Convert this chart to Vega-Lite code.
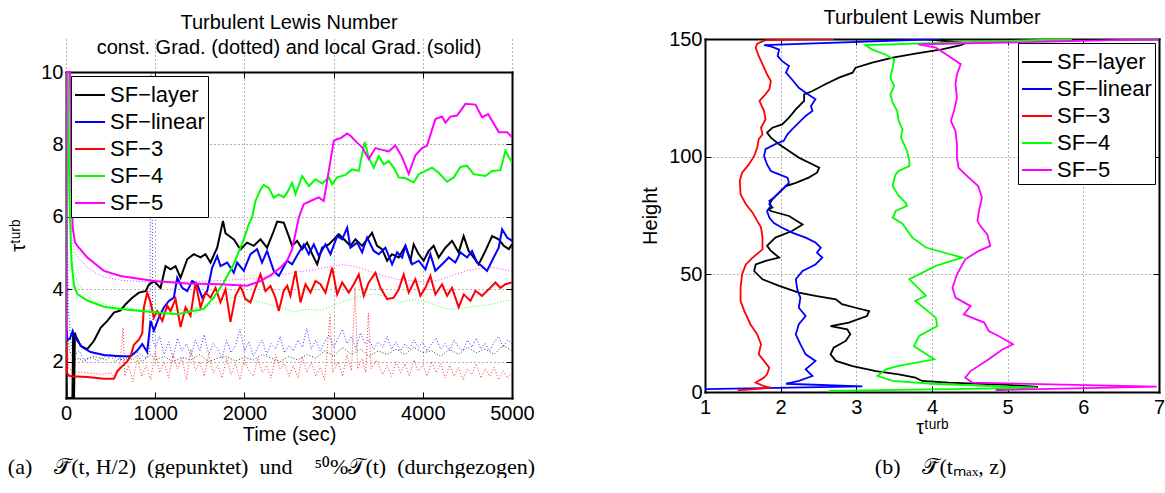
{
"$schema":"https://vega.github.io/schema/vega-lite/v6.json",
"background":"white",
"padding":{"left":7,"top":8,"right":0,"bottom":0},
"config":{
 "font":"Liberation Sans",
 "view":{"stroke":null},
 "axis":{"labelFont":"Liberation Sans","labelFontSize":20,"labelColor":"black","titleFont":"Liberation Sans","titleFontSize":20,"titleFontWeight":"normal","titleColor":"black","domain":true,"domainColor":"black","domainWidth":2,"domainCap":"square","tickColor":"black","tickSize":-6,"tickWidth":1,"gridColor":"black","gridDash":[1,3],"gridOpacity":0.6,"gridWidth":1,"labelFlush":false},
 "legend":{"padding":3,"strokeColor":"black","fillColor":"white","labelFont":"Liberation Sans","labelFontSize":22,"labelColor":"black","symbolType":"stroke","symbolSize":900,"symbolStrokeWidth":2,"symbolDash":[],"symbolOpacity":1,"labelOffset":4,"rowPadding":-1},
 "title":{"font":"Liberation Sans","fontSize":20,"fontWeight":"normal","color":"black"}
},
"datasets":{
"ls":[
{"s":"SF−layer","t":0,"v":2.6},{"s":"SF−layer","t":8,"v":1.0},{"s":"SF−layer","t":72,"v":1.0},{"s":"SF−layer","t":80,"v":2.8},{"s":"SF−layer","t":90,"v":1.0},{"s":"SF−layer","t":100,"v":2.8},{"s":"SF−layer","t":108,"v":2.72},{"s":"SF−layer","t":164,"v":2.44},{"s":"SF−layer","t":239,"v":2.35},{"s":"SF−layer","t":314,"v":2.58},{"s":"SF−layer","t":388,"v":2.94},{"s":"SF−layer","t":463,"v":3.13},{"s":"SF−layer","t":537,"v":3.36},{"s":"SF−layer","t":612,"v":3.42},{"s":"SF−layer","t":668,"v":3.59},{"s":"SF−layer","t":743,"v":3.77},{"s":"SF−layer","t":817,"v":3.91},{"s":"SF−layer","t":892,"v":3.95},{"s":"SF−layer","t":929,"v":4.13},{"s":"SF−layer","t":985,"v":4.23},{"s":"SF−layer","t":1060,"v":4.04},{"s":"SF−layer","t":1116,"v":4.64},{"s":"SF−layer","t":1172,"v":4.55},{"s":"SF−layer","t":1228,"v":4.64},{"s":"SF−layer","t":1284,"v":4.32},{"s":"SF−layer","t":1359,"v":4.83},{"s":"SF−layer","t":1433,"v":4.97},{"s":"SF−layer","t":1508,"v":4.88},{"s":"SF−layer","t":1564,"v":4.97},{"s":"SF−layer","t":1620,"v":4.74},{"s":"SF−layer","t":1695,"v":5.15},{"s":"SF−layer","t":1760,"v":5.89},{"s":"SF−layer","t":1788,"v":5.55},{"s":"SF−layer","t":1881,"v":5.38},{"s":"SF−layer","t":1956,"v":5.1},{"s":"SF−layer","t":2030,"v":5.29},{"s":"SF−layer","t":2105,"v":5.2},{"s":"SF−layer","t":2180,"v":5.38},{"s":"SF−layer","t":2254,"v":5.15},{"s":"SF−layer","t":2329,"v":5.61},{"s":"SF−layer","t":2367,"v":5.87},{"s":"SF−layer","t":2441,"v":5.84},{"s":"SF−layer","t":2497,"v":5.47},{"s":"SF−layer","t":2535,"v":5.2},{"s":"SF−layer","t":2591,"v":5.34},{"s":"SF−layer","t":2647,"v":5.11},{"s":"SF−layer","t":2703,"v":5.29},{"s":"SF−layer","t":2760,"v":4.97},{"s":"SF−layer","t":2816,"v":4.69},{"s":"SF−layer","t":2871,"v":5.15},{"s":"SF−layer","t":2946,"v":5.24},{"s":"SF−layer","t":3002,"v":5.38},{"s":"SF−layer","t":3058,"v":5.52},{"s":"SF−layer","t":3133,"v":5.34},{"s":"SF−layer","t":3189,"v":5.2},{"s":"SF−layer","t":3245,"v":5.38},{"s":"SF−layer","t":3320,"v":5.2},{"s":"SF−layer","t":3376,"v":5.38},{"s":"SF−layer","t":3431,"v":5.56},{"s":"SF−layer","t":3487,"v":5.2},{"s":"SF−layer","t":3543,"v":5.11},{"s":"SF−layer","t":3600,"v":4.79},{"s":"SF−layer","t":3655,"v":4.97},{"s":"SF−layer","t":3730,"v":4.88},{"s":"SF−layer","t":3805,"v":5.2},{"s":"SF−layer","t":3861,"v":4.79},{"s":"SF−layer","t":3898,"v":5.24},{"s":"SF−layer","t":3954,"v":4.97},{"s":"SF−layer","t":4010,"v":4.79},{"s":"SF−layer","t":4066,"v":5.06},{"s":"SF−layer","t":4122,"v":5.2},{"s":"SF−layer","t":4178,"v":4.88},{"s":"SF−layer","t":4253,"v":5.15},{"s":"SF−layer","t":4328,"v":5.34},{"s":"SF−layer","t":4402,"v":5.02},{"s":"SF−layer","t":4458,"v":5.47},{"s":"SF−layer","t":4514,"v":5.06},{"s":"SF−layer","t":4570,"v":4.88},{"s":"SF−layer","t":4626,"v":4.69},{"s":"SF−layer","t":4702,"v":5.06},{"s":"SF−layer","t":4777,"v":5.47},{"s":"SF−layer","t":4851,"v":5.38},{"s":"SF−layer","t":4908,"v":5.2},{"s":"SF−layer","t":4964,"v":5.11},{"s":"SF−layer","t":5000,"v":5.24},
{"s":"SF−linear","t":0,"v":3.0},{"s":"SF−linear","t":15,"v":2.6},{"s":"SF−linear","t":45,"v":2.65},{"s":"SF−linear","t":75,"v":2.85},{"s":"SF−linear","t":90,"v":2.72},{"s":"SF−linear","t":127,"v":2.58},{"s":"SF−linear","t":183,"v":2.4},{"s":"SF−linear","t":276,"v":2.27},{"s":"SF−linear","t":425,"v":2.19},{"s":"SF−linear","t":612,"v":2.15},{"s":"SF−linear","t":724,"v":2.15},{"s":"SF−linear","t":799,"v":2.31},{"s":"SF−linear","t":855,"v":2.49},{"s":"SF−linear","t":910,"v":2.27},{"s":"SF−linear","t":948,"v":3.13},{"s":"SF−linear","t":985,"v":2.86},{"s":"SF−linear","t":1041,"v":3.22},{"s":"SF−linear","t":1097,"v":3.5},{"s":"SF−linear","t":1153,"v":3.68},{"s":"SF−linear","t":1209,"v":3.77},{"s":"SF−linear","t":1247,"v":4.32},{"s":"SF−linear","t":1303,"v":4.04},{"s":"SF−linear","t":1359,"v":3.95},{"s":"SF−linear","t":1415,"v":4.23},{"s":"SF−linear","t":1471,"v":4.14},{"s":"SF−linear","t":1527,"v":3.77},{"s":"SF−linear","t":1583,"v":3.95},{"s":"SF−linear","t":1639,"v":4.6},{"s":"SF−linear","t":1695,"v":4.92},{"s":"SF−linear","t":1732,"v":4.64},{"s":"SF−linear","t":1807,"v":4.74},{"s":"SF−linear","t":1881,"v":4.46},{"s":"SF−linear","t":1919,"v":4.74},{"s":"SF−linear","t":1993,"v":4.51},{"s":"SF−linear","t":2068,"v":4.97},{"s":"SF−linear","t":2142,"v":5.11},{"s":"SF−linear","t":2198,"v":4.74},{"s":"SF−linear","t":2254,"v":5.06},{"s":"SF−linear","t":2329,"v":4.51},{"s":"SF−linear","t":2386,"v":4.37},{"s":"SF−linear","t":2479,"v":4.79},{"s":"SF−linear","t":2535,"v":4.69},{"s":"SF−linear","t":2610,"v":5.02},{"s":"SF−linear","t":2666,"v":5.24},{"s":"SF−linear","t":2722,"v":4.97},{"s":"SF−linear","t":2778,"v":5.24},{"s":"SF−linear","t":2834,"v":4.92},{"s":"SF−linear","t":2909,"v":5.24},{"s":"SF−linear","t":2965,"v":4.97},{"s":"SF−linear","t":3040,"v":5.47},{"s":"SF−linear","t":3096,"v":5.38},{"s":"SF−linear","t":3152,"v":5.7},{"s":"SF−linear","t":3189,"v":5.15},{"s":"SF−linear","t":3264,"v":5.29},{"s":"SF−linear","t":3320,"v":5.02},{"s":"SF−linear","t":3376,"v":5.43},{"s":"SF−linear","t":3450,"v":5.06},{"s":"SF−linear","t":3506,"v":4.97},{"s":"SF−linear","t":3581,"v":5.15},{"s":"SF−linear","t":3656,"v":4.69},{"s":"SF−linear","t":3712,"v":5.02},{"s":"SF−linear","t":3768,"v":4.88},{"s":"SF−linear","t":3805,"v":5.2},{"s":"SF−linear","t":3880,"v":4.69},{"s":"SF−linear","t":3954,"v":4.79},{"s":"SF−linear","t":4029,"v":4.55},{"s":"SF−linear","t":4085,"v":4.97},{"s":"SF−linear","t":4141,"v":4.51},{"s":"SF−linear","t":4216,"v":4.69},{"s":"SF−linear","t":4290,"v":4.88},{"s":"SF−linear","t":4365,"v":4.74},{"s":"SF−linear","t":4421,"v":5.02},{"s":"SF−linear","t":4496,"v":4.88},{"s":"SF−linear","t":4552,"v":5.06},{"s":"SF−linear","t":4608,"v":4.74},{"s":"SF−linear","t":4664,"v":4.64},{"s":"SF−linear","t":4720,"v":4.51},{"s":"SF−linear","t":4776,"v":4.79},{"s":"SF−linear","t":4851,"v":5.15},{"s":"SF−linear","t":4889,"v":5.66},{"s":"SF−linear","t":4945,"v":5.43},{"s":"SF−linear","t":5000,"v":5.34},
{"s":"SF−3","t":0,"v":2.6},{"s":"SF−3","t":12,"v":1.7},{"s":"SF−3","t":30,"v":1.62},{"s":"SF−3","t":60,"v":1.6},{"s":"SF−3","t":239,"v":1.58},{"s":"SF−3","t":425,"v":1.53},{"s":"SF−3","t":537,"v":1.53},{"s":"SF−3","t":575,"v":1.74},{"s":"SF−3","t":631,"v":1.88},{"s":"SF−3","t":687,"v":2.01},{"s":"SF−3","t":724,"v":2.15},{"s":"SF−3","t":761,"v":2.47},{"s":"SF−3","t":817,"v":2.61},{"s":"SF−3","t":855,"v":2.79},{"s":"SF−3","t":873,"v":3.5},{"s":"SF−3","t":910,"v":3.91},{"s":"SF−3","t":948,"v":3.64},{"s":"SF−3","t":985,"v":3.22},{"s":"SF−3","t":1023,"v":3.4},{"s":"SF−3","t":1079,"v":3.13},{"s":"SF−3","t":1135,"v":3.55},{"s":"SF−3","t":1172,"v":3.4},{"s":"SF−3","t":1228,"v":3.73},{"s":"SF−3","t":1284,"v":2.96},{"s":"SF−3","t":1340,"v":3.5},{"s":"SF−3","t":1396,"v":3.27},{"s":"SF−3","t":1452,"v":4.19},{"s":"SF−3","t":1508,"v":3.5},{"s":"SF−3","t":1564,"v":3.91},{"s":"SF−3","t":1620,"v":3.77},{"s":"SF−3","t":1676,"v":4.04},{"s":"SF−3","t":1732,"v":3.64},{"s":"SF−3","t":1788,"v":4.0},{"s":"SF−3","t":1844,"v":3.1},{"s":"SF−3","t":1900,"v":3.82},{"s":"SF−3","t":1956,"v":4.09},{"s":"SF−3","t":2012,"v":3.73},{"s":"SF−3","t":2068,"v":3.64},{"s":"SF−3","t":2124,"v":4.04},{"s":"SF−3","t":2180,"v":4.41},{"s":"SF−3","t":2236,"v":3.95},{"s":"SF−3","t":2292,"v":4.09},{"s":"SF−3","t":2348,"v":3.77},{"s":"SF−3","t":2385,"v":3.4},{"s":"SF−3","t":2441,"v":3.96},{"s":"SF−3","t":2480,"v":4.1},{"s":"SF−3","t":2516,"v":3.82},{"s":"SF−3","t":2573,"v":4.51},{"s":"SF−3","t":2629,"v":3.64},{"s":"SF−3","t":2685,"v":4.14},{"s":"SF−3","t":2741,"v":3.91},{"s":"SF−3","t":2797,"v":4.23},{"s":"SF−3","t":2853,"v":4.14},{"s":"SF−3","t":2909,"v":3.91},{"s":"SF−3","t":2984,"v":4.6},{"s":"SF−3","t":3040,"v":3.86},{"s":"SF−3","t":3096,"v":4.19},{"s":"SF−3","t":3170,"v":3.91},{"s":"SF−3","t":3226,"v":4.14},{"s":"SF−3","t":3282,"v":4.41},{"s":"SF−3","t":3338,"v":3.82},{"s":"SF−3","t":3394,"v":4.19},{"s":"SF−3","t":3469,"v":4.46},{"s":"SF−3","t":3525,"v":4.04},{"s":"SF−3","t":3600,"v":3.73},{"s":"SF−3","t":3674,"v":3.77},{"s":"SF−3","t":3730,"v":4.0},{"s":"SF−3","t":3786,"v":4.41},{"s":"SF−3","t":3842,"v":3.91},{"s":"SF−3","t":3917,"v":4.28},{"s":"SF−3","t":3973,"v":3.82},{"s":"SF−3","t":4029,"v":4.04},{"s":"SF−3","t":4085,"v":4.37},{"s":"SF−3","t":4141,"v":3.86},{"s":"SF−3","t":4216,"v":4.14},{"s":"SF−3","t":4272,"v":3.82},{"s":"SF−3","t":4328,"v":4.04},{"s":"SF−3","t":4402,"v":3.5},{"s":"SF−3","t":4459,"v":3.86},{"s":"SF−3","t":4534,"v":3.68},{"s":"SF−3","t":4590,"v":3.96},{"s":"SF−3","t":4664,"v":3.82},{"s":"SF−3","t":4739,"v":4.0},{"s":"SF−3","t":4814,"v":4.19},{"s":"SF−3","t":4870,"v":4.04},{"s":"SF−3","t":4926,"v":4.14},{"s":"SF−3","t":5000,"v":4.19},
{"s":"SF−4","t":0,"v":3.0},{"s":"SF−4","t":20,"v":10.0},{"s":"SF−4","t":40,"v":6.5},{"s":"SF−4","t":60,"v":4.8},{"s":"SF−4","t":90,"v":4.1},{"s":"SF−4","t":127,"v":3.87},{"s":"SF−4","t":239,"v":3.69},{"s":"SF−4","t":425,"v":3.52},{"s":"SF−4","t":612,"v":3.46},{"s":"SF−4","t":985,"v":3.37},{"s":"SF−4","t":1247,"v":3.31},{"s":"SF−4","t":1396,"v":3.39},{"s":"SF−4","t":1545,"v":3.46},{"s":"SF−4","t":1657,"v":3.78},{"s":"SF−4","t":1769,"v":4.19},{"s":"SF−4","t":1881,"v":4.7},{"s":"SF−4","t":1993,"v":5.38},{"s":"SF−4","t":2050,"v":5.8},{"s":"SF−4","t":2086,"v":5.98},{"s":"SF−4","t":2124,"v":6.44},{"s":"SF−4","t":2180,"v":6.75},{"s":"SF−4","t":2217,"v":6.88},{"s":"SF−4","t":2273,"v":6.8},{"s":"SF−4","t":2329,"v":6.53},{"s":"SF−4","t":2386,"v":6.62},{"s":"SF−4","t":2442,"v":6.54},{"s":"SF−4","t":2479,"v":6.67},{"s":"SF−4","t":2535,"v":6.94},{"s":"SF−4","t":2573,"v":6.63},{"s":"SF−4","t":2647,"v":7.13},{"s":"SF−4","t":2722,"v":6.85},{"s":"SF−4","t":2797,"v":7.04},{"s":"SF−4","t":2871,"v":6.92},{"s":"SF−4","t":2946,"v":7.09},{"s":"SF−4","t":2983,"v":6.9},{"s":"SF−4","t":3039,"v":7.09},{"s":"SF−4","t":3133,"v":7.16},{"s":"SF−4","t":3208,"v":7.31},{"s":"SF−4","t":3282,"v":7.27},{"s":"SF−4","t":3349,"v":8.07},{"s":"SF−4","t":3394,"v":7.64},{"s":"SF−4","t":3450,"v":7.36},{"s":"SF−4","t":3506,"v":7.68},{"s":"SF−4","t":3562,"v":7.45},{"s":"SF−4","t":3618,"v":7.54},{"s":"SF−4","t":3674,"v":7.36},{"s":"SF−4","t":3730,"v":7.09},{"s":"SF−4","t":3804,"v":7.07},{"s":"SF−4","t":3898,"v":6.95},{"s":"SF−4","t":3954,"v":7.18},{"s":"SF−4","t":4029,"v":7.27},{"s":"SF−4","t":4104,"v":7.36},{"s":"SF−4","t":4178,"v":7.22},{"s":"SF−4","t":4272,"v":6.97},{"s":"SF−4","t":4347,"v":7.09},{"s":"SF−4","t":4422,"v":7.38},{"s":"SF−4","t":4496,"v":7.41},{"s":"SF−4","t":4571,"v":7.18},{"s":"SF−4","t":4702,"v":7.13},{"s":"SF−4","t":4777,"v":7.27},{"s":"SF−4","t":4870,"v":7.29},{"s":"SF−4","t":4926,"v":7.82},{"s":"SF−4","t":5000,"v":7.5},
{"s":"SF−5","t":0,"v":2.6},{"s":"SF−5","t":5,"v":10.0},{"s":"SF−5","t":45,"v":10.0},{"s":"SF−5","t":60,"v":7.0},{"s":"SF−5","t":75,"v":5.7},{"s":"SF−5","t":100,"v":5.3},{"s":"SF−5","t":127,"v":5.2},{"s":"SF−5","t":239,"v":4.88},{"s":"SF−5","t":425,"v":4.51},{"s":"SF−5","t":612,"v":4.37},{"s":"SF−5","t":985,"v":4.23},{"s":"SF−5","t":1359,"v":4.16},{"s":"SF−5","t":1732,"v":4.14},{"s":"SF−5","t":2031,"v":4.1},{"s":"SF−5","t":2180,"v":4.23},{"s":"SF−5","t":2300,"v":4.4},{"s":"SF−5","t":2405,"v":4.6},{"s":"SF−5","t":2480,"v":4.8},{"s":"SF−5","t":2535,"v":5.1},{"s":"SF−5","t":2560,"v":5.4},{"s":"SF−5","t":2610,"v":5.98},{"s":"SF−5","t":2665,"v":6.35},{"s":"SF−5","t":2759,"v":6.46},{"s":"SF−5","t":2834,"v":6.54},{"s":"SF−5","t":2890,"v":6.44},{"s":"SF−5","t":2946,"v":7.27},{"s":"SF−5","t":3002,"v":8.1},{"s":"SF−5","t":3040,"v":8.15},{"s":"SF−5","t":3077,"v":8.17},{"s":"SF−5","t":3152,"v":8.3},{"s":"SF−5","t":3189,"v":8.24},{"s":"SF−5","t":3263,"v":8.05},{"s":"SF−5","t":3319,"v":7.92},{"s":"SF−5","t":3394,"v":7.6},{"s":"SF−5","t":3469,"v":7.9},{"s":"SF−5","t":3543,"v":7.85},{"s":"SF−5","t":3618,"v":7.81},{"s":"SF−5","t":3693,"v":7.97},{"s":"SF−5","t":3768,"v":7.65},{"s":"SF−5","t":3842,"v":7.19},{"s":"SF−5","t":3917,"v":7.7},{"s":"SF−5","t":3992,"v":7.9},{"s":"SF−5","t":4048,"v":7.97},{"s":"SF−5","t":4141,"v":8.7},{"s":"SF−5","t":4216,"v":8.77},{"s":"SF−5","t":4254,"v":8.6},{"s":"SF−5","t":4310,"v":8.77},{"s":"SF−5","t":4384,"v":8.8},{"s":"SF−5","t":4478,"v":9.12},{"s":"SF−5","t":4590,"v":9.1},{"s":"SF−5","t":4665,"v":8.75},{"s":"SF−5","t":4732,"v":8.84},{"s":"SF−5","t":4852,"v":8.34},{"s":"SF−5","t":4945,"v":8.34},{"s":"SF−5","t":5000,"v":8.2}
],
"ld":[
{"s":"SF−layer","t":0,"v":3.0},{"s":"SF−layer","t":40,"v":2.3},{"s":"SF−layer","t":100,"v":2.05},{"s":"SF−layer","t":150,"v":2.1},{"s":"SF−layer","t":200,"v":2.0},{"s":"SF−layer","t":250,"v":2.08},{"s":"SF−layer","t":300,"v":2.12},{"s":"SF−layer","t":350,"v":2.02},{"s":"SF−layer","t":400,"v":2.1},{"s":"SF−layer","t":450,"v":2.05},{"s":"SF−layer","t":500,"v":2.15},{"s":"SF−layer","t":550,"v":2.0},{"s":"SF−layer","t":600,"v":2.1},{"s":"SF−layer","t":650,"v":2.02},{"s":"SF−layer","t":700,"v":2.12},{"s":"SF−layer","t":750,"v":2.05},{"s":"SF−layer","t":800,"v":2.18},{"s":"SF−layer","t":850,"v":2.0},{"s":"SF−layer","t":900,"v":2.1},{"s":"SF−layer","t":950,"v":2.2},{"s":"SF−layer","t":1000,"v":2.05},{"s":"SF−layer","t":1100,"v":2.15},{"s":"SF−layer","t":1200,"v":2.0},{"s":"SF−layer","t":1300,"v":2.12},{"s":"SF−layer","t":1400,"v":2.05},{"s":"SF−layer","t":1500,"v":2.2},{"s":"SF−layer","t":1600,"v":2.0},{"s":"SF−layer","t":1700,"v":2.1},{"s":"SF−layer","t":1800,"v":2.15},{"s":"SF−layer","t":1900,"v":2.02},{"s":"SF−layer","t":2000,"v":2.12},{"s":"SF−layer","t":2100,"v":2.05},{"s":"SF−layer","t":2200,"v":2.2},{"s":"SF−layer","t":2300,"v":2.1},{"s":"SF−layer","t":2400,"v":2.0},{"s":"SF−layer","t":2500,"v":2.15},{"s":"SF−layer","t":2600,"v":2.05},{"s":"SF−layer","t":2700,"v":2.2},{"s":"SF−layer","t":2800,"v":2.1},{"s":"SF−layer","t":2900,"v":2.3},{"s":"SF−layer","t":3000,"v":2.15},{"s":"SF−layer","t":3100,"v":2.4},{"s":"SF−layer","t":3200,"v":2.2},{"s":"SF−layer","t":3300,"v":2.35},{"s":"SF−layer","t":3400,"v":2.15},{"s":"SF−layer","t":3500,"v":2.3},{"s":"SF−layer","t":3600,"v":2.2},{"s":"SF−layer","t":3700,"v":2.35},{"s":"SF−layer","t":3800,"v":2.2},{"s":"SF−layer","t":3900,"v":2.4},{"s":"SF−layer","t":4000,"v":2.25},{"s":"SF−layer","t":4100,"v":2.3},{"s":"SF−layer","t":4200,"v":2.15},{"s":"SF−layer","t":4300,"v":2.35},{"s":"SF−layer","t":4400,"v":2.2},{"s":"SF−layer","t":4500,"v":2.4},{"s":"SF−layer","t":4600,"v":2.25},{"s":"SF−layer","t":4700,"v":2.35},{"s":"SF−layer","t":4800,"v":2.2},{"s":"SF−layer","t":4900,"v":2.45},{"s":"SF−layer","t":5000,"v":2.3},
{"s":"SF−linear","t":0,"v":10.0},{"s":"SF−linear","t":25,"v":3.5},{"s":"SF−linear","t":60,"v":2.4},{"s":"SF−linear","t":100,"v":2.2},{"s":"SF−linear","t":150,"v":2.3},{"s":"SF−linear","t":200,"v":2.05},{"s":"SF−linear","t":300,"v":2.15},{"s":"SF−linear","t":400,"v":2.1},{"s":"SF−linear","t":500,"v":2.2},{"s":"SF−linear","t":600,"v":2.05},{"s":"SF−linear","t":700,"v":2.15},{"s":"SF−linear","t":800,"v":2.25},{"s":"SF−linear","t":900,"v":2.1},{"s":"SF−linear","t":940,"v":2.3},{"s":"SF−linear","t":950,"v":10.0},{"s":"SF−linear","t":962,"v":10.0},{"s":"SF−linear","t":972,"v":2.6},{"s":"SF−linear","t":1000,"v":2.4},{"s":"SF−linear","t":1050,"v":2.7},{"s":"SF−linear","t":1100,"v":2.2},{"s":"SF−linear","t":1150,"v":2.55},{"s":"SF−linear","t":1200,"v":2.1},{"s":"SF−linear","t":1250,"v":2.65},{"s":"SF−linear","t":1300,"v":2.3},{"s":"SF−linear","t":1350,"v":2.5},{"s":"SF−linear","t":1400,"v":2.15},{"s":"SF−linear","t":1450,"v":2.6},{"s":"SF−linear","t":1500,"v":2.3},{"s":"SF−linear","t":1550,"v":2.75},{"s":"SF−linear","t":1600,"v":2.2},{"s":"SF−linear","t":1650,"v":2.5},{"s":"SF−linear","t":1700,"v":2.35},{"s":"SF−linear","t":1750,"v":2.1},{"s":"SF−linear","t":1800,"v":2.6},{"s":"SF−linear","t":1850,"v":2.25},{"s":"SF−linear","t":1900,"v":2.45},{"s":"SF−linear","t":1950,"v":2.9},{"s":"SF−linear","t":2000,"v":2.3},{"s":"SF−linear","t":2050,"v":2.55},{"s":"SF−linear","t":2100,"v":2.15},{"s":"SF−linear","t":2150,"v":2.4},{"s":"SF−linear","t":2200,"v":2.6},{"s":"SF−linear","t":2250,"v":2.2},{"s":"SF−linear","t":2300,"v":2.5},{"s":"SF−linear","t":2350,"v":2.35},{"s":"SF−linear","t":2400,"v":2.7},{"s":"SF−linear","t":2450,"v":2.25},{"s":"SF−linear","t":2500,"v":2.45},{"s":"SF−linear","t":2550,"v":2.3},{"s":"SF−linear","t":2600,"v":2.6},{"s":"SF−linear","t":2650,"v":2.4},{"s":"SF−linear","t":2700,"v":2.92},{"s":"SF−linear","t":2750,"v":2.35},{"s":"SF−linear","t":2800,"v":2.6},{"s":"SF−linear","t":2850,"v":2.3},{"s":"SF−linear","t":2900,"v":2.55},{"s":"SF−linear","t":2950,"v":2.75},{"s":"SF−linear","t":3000,"v":2.4},{"s":"SF−linear","t":3050,"v":2.65},{"s":"SF−linear","t":3100,"v":2.9},{"s":"SF−linear","t":3150,"v":2.5},{"s":"SF−linear","t":3200,"v":2.7},{"s":"SF−linear","t":3250,"v":2.35},{"s":"SF−linear","t":3300,"v":2.8},{"s":"SF−linear","t":3350,"v":2.5},{"s":"SF−linear","t":3400,"v":2.6},{"s":"SF−linear","t":3450,"v":2.35},{"s":"SF−linear","t":3500,"v":2.55},{"s":"SF−linear","t":3550,"v":2.4},{"s":"SF−linear","t":3600,"v":2.7},{"s":"SF−linear","t":3650,"v":2.35},{"s":"SF−linear","t":3700,"v":2.55},{"s":"SF−linear","t":3750,"v":2.3},{"s":"SF−linear","t":3800,"v":2.5},{"s":"SF−linear","t":3850,"v":2.35},{"s":"SF−linear","t":3900,"v":2.6},{"s":"SF−linear","t":3950,"v":2.4},{"s":"SF−linear","t":4000,"v":2.55},{"s":"SF−linear","t":4050,"v":2.3},{"s":"SF−linear","t":4100,"v":2.5},{"s":"SF−linear","t":4150,"v":2.65},{"s":"SF−linear","t":4200,"v":2.35},{"s":"SF−linear","t":4250,"v":2.5},{"s":"SF−linear","t":4300,"v":2.3},{"s":"SF−linear","t":4350,"v":2.6},{"s":"SF−linear","t":4400,"v":2.4},{"s":"SF−linear","t":4450,"v":2.3},{"s":"SF−linear","t":4500,"v":2.6},{"s":"SF−linear","t":4550,"v":2.4},{"s":"SF−linear","t":4600,"v":2.65},{"s":"SF−linear","t":4650,"v":2.35},{"s":"SF−linear","t":4700,"v":2.5},{"s":"SF−linear","t":4750,"v":2.3},{"s":"SF−linear","t":4800,"v":2.55},{"s":"SF−linear","t":4850,"v":2.7},{"s":"SF−linear","t":4900,"v":2.4},{"s":"SF−linear","t":4950,"v":2.6},{"s":"SF−linear","t":5000,"v":2.5},
{"s":"SF−3","t":0,"v":3.0},{"s":"SF−3","t":30,"v":1.8},{"s":"SF−3","t":100,"v":1.72},{"s":"SF−3","t":200,"v":1.7},{"s":"SF−3","t":300,"v":1.68},{"s":"SF−3","t":400,"v":1.65},{"s":"SF−3","t":500,"v":1.7},{"s":"SF−3","t":550,"v":1.55},{"s":"SF−3","t":600,"v":1.8},{"s":"SF−3","t":640,"v":2.95},{"s":"SF−3","t":660,"v":1.6},{"s":"SF−3","t":700,"v":1.9},{"s":"SF−3","t":750,"v":1.45},{"s":"SF−3","t":800,"v":2.1},{"s":"SF−3","t":850,"v":1.6},{"s":"SF−3","t":900,"v":1.9},{"s":"SF−3","t":950,"v":1.5},{"s":"SF−3","t":1000,"v":2.3},{"s":"SF−3","t":1050,"v":1.7},{"s":"SF−3","t":1100,"v":2.0},{"s":"SF−3","t":1150,"v":1.55},{"s":"SF−3","t":1200,"v":2.2},{"s":"SF−3","t":1250,"v":1.8},{"s":"SF−3","t":1300,"v":2.1},{"s":"SF−3","t":1350,"v":1.5},{"s":"SF−3","t":1400,"v":2.35},{"s":"SF−3","t":1450,"v":1.75},{"s":"SF−3","t":1500,"v":2.0},{"s":"SF−3","t":1550,"v":1.6},{"s":"SF−3","t":1600,"v":2.2},{"s":"SF−3","t":1650,"v":1.7},{"s":"SF−3","t":1700,"v":1.9},{"s":"SF−3","t":1750,"v":1.55},{"s":"SF−3","t":1800,"v":2.1},{"s":"SF−3","t":1850,"v":1.65},{"s":"SF−3","t":1900,"v":1.95},{"s":"SF−3","t":1950,"v":1.5},{"s":"SF−3","t":2000,"v":2.05},{"s":"SF−3","t":2050,"v":1.75},{"s":"SF−3","t":2100,"v":1.6},{"s":"SF−3","t":2150,"v":2.1},{"s":"SF−3","t":2200,"v":1.7},{"s":"SF−3","t":2250,"v":1.9},{"s":"SF−3","t":2300,"v":1.55},{"s":"SF−3","t":2350,"v":2.2},{"s":"SF−3","t":2400,"v":1.8},{"s":"SF−3","t":2450,"v":1.95},{"s":"SF−3","t":2500,"v":1.6},{"s":"SF−3","t":2550,"v":1.9},{"s":"SF−3","t":2600,"v":1.55},{"s":"SF−3","t":2650,"v":2.15},{"s":"SF−3","t":2700,"v":1.7},{"s":"SF−3","t":2750,"v":2.0},{"s":"SF−3","t":2800,"v":1.6},{"s":"SF−3","t":2850,"v":1.85},{"s":"SF−3","t":2900,"v":1.5},{"s":"SF−3","t":2960,"v":3.3},{"s":"SF−3","t":2990,"v":1.7},{"s":"SF−3","t":3050,"v":2.0},{"s":"SF−3","t":3100,"v":1.6},{"s":"SF−3","t":3150,"v":2.2},{"s":"SF−3","t":3200,"v":1.75},{"s":"SF−3","t":3240,"v":4.05},{"s":"SF−3","t":3270,"v":1.8},{"s":"SF−3","t":3320,"v":2.1},{"s":"SF−3","t":3360,"v":1.7},{"s":"SF−3","t":3390,"v":3.35},{"s":"SF−3","t":3420,"v":1.8},{"s":"SF−3","t":3480,"v":2.05},{"s":"SF−3","t":3550,"v":1.65},{"s":"SF−3","t":3600,"v":1.9},{"s":"SF−3","t":3650,"v":1.6},{"s":"SF−3","t":3700,"v":2.0},{"s":"SF−3","t":3750,"v":1.7},{"s":"SF−3","t":3800,"v":1.95},{"s":"SF−3","t":3850,"v":1.6},{"s":"SF−3","t":3900,"v":2.05},{"s":"SF−3","t":3950,"v":1.75},{"s":"SF−3","t":4000,"v":1.9},{"s":"SF−3","t":4050,"v":1.6},{"s":"SF−3","t":4100,"v":2.0},{"s":"SF−3","t":4150,"v":1.7},{"s":"SF−3","t":4200,"v":1.95},{"s":"SF−3","t":4250,"v":1.55},{"s":"SF−3","t":4300,"v":1.9},{"s":"SF−3","t":4350,"v":1.6},{"s":"SF−3","t":4400,"v":1.85},{"s":"SF−3","t":4450,"v":1.5},{"s":"SF−3","t":4500,"v":1.8},{"s":"SF−3","t":4550,"v":1.65},{"s":"SF−3","t":4600,"v":1.95},{"s":"SF−3","t":4650,"v":1.55},{"s":"SF−3","t":4700,"v":1.8},{"s":"SF−3","t":4750,"v":1.6},{"s":"SF−3","t":4800,"v":1.85},{"s":"SF−3","t":4850,"v":1.5},{"s":"SF−3","t":4900,"v":1.75},{"s":"SF−3","t":4950,"v":1.55},{"s":"SF−3","t":5000,"v":1.7},
{"s":"SF−4","t":0,"v":10.0},{"s":"SF−4","t":25,"v":8.0},{"s":"SF−4","t":50,"v":5.5},{"s":"SF−4","t":80,"v":4.6},{"s":"SF−4","t":127,"v":4.2},{"s":"SF−4","t":200,"v":3.9},{"s":"SF−4","t":300,"v":3.7},{"s":"SF−4","t":500,"v":3.55},{"s":"SF−4","t":800,"v":3.45},{"s":"SF−4","t":1100,"v":3.4},{"s":"SF−4","t":1400,"v":3.45},{"s":"SF−4","t":1600,"v":3.55},{"s":"SF−4","t":1800,"v":3.75},{"s":"SF−4","t":1950,"v":3.8},{"s":"SF−4","t":2100,"v":3.7},{"s":"SF−4","t":2250,"v":3.6},{"s":"SF−4","t":2400,"v":3.5},{"s":"SF−4","t":2550,"v":3.38},{"s":"SF−4","t":2700,"v":3.45},{"s":"SF−4","t":2850,"v":3.42},{"s":"SF−4","t":3000,"v":3.55},{"s":"SF−4","t":3150,"v":3.7},{"s":"SF−4","t":3300,"v":3.8},{"s":"SF−4","t":3450,"v":3.88},{"s":"SF−4","t":3600,"v":3.8},{"s":"SF−4","t":3750,"v":3.65},{"s":"SF−4","t":3900,"v":3.72},{"s":"SF−4","t":4050,"v":3.65},{"s":"SF−4","t":4200,"v":3.5},{"s":"SF−4","t":4350,"v":3.45},{"s":"SF−4","t":4500,"v":3.5},{"s":"SF−4","t":4650,"v":3.55},{"s":"SF−4","t":4800,"v":3.6},{"s":"SF−4","t":4950,"v":3.7},{"s":"SF−4","t":5000,"v":3.68},
{"s":"SF−5","t":0,"v":10.0},{"s":"SF−5","t":30,"v":6.5},{"s":"SF−5","t":70,"v":5.3},{"s":"SF−5","t":100,"v":5.0},{"s":"SF−5","t":150,"v":4.85},{"s":"SF−5","t":239,"v":4.6},{"s":"SF−5","t":330,"v":4.45},{"s":"SF−5","t":425,"v":4.35},{"s":"SF−5","t":612,"v":4.25},{"s":"SF−5","t":800,"v":4.22},{"s":"SF−5","t":985,"v":4.2},{"s":"SF−5","t":1200,"v":4.2},{"s":"SF−5","t":1500,"v":4.22},{"s":"SF−5","t":1800,"v":4.25},{"s":"SF−5","t":2000,"v":4.28},{"s":"SF−5","t":2200,"v":4.33},{"s":"SF−5","t":2400,"v":4.4},{"s":"SF−5","t":2600,"v":4.48},{"s":"SF−5","t":2800,"v":4.55},{"s":"SF−5","t":3000,"v":4.65},{"s":"SF−5","t":3100,"v":4.68},{"s":"SF−5","t":3250,"v":4.63},{"s":"SF−5","t":3400,"v":4.5},{"s":"SF−5","t":3550,"v":4.38},{"s":"SF−5","t":3700,"v":4.28},{"s":"SF−5","t":3900,"v":4.22},{"s":"SF−5","t":4050,"v":4.2},{"s":"SF−5","t":4200,"v":4.27},{"s":"SF−5","t":4350,"v":4.4},{"s":"SF−5","t":4500,"v":4.52},{"s":"SF−5","t":4650,"v":4.58},{"s":"SF−5","t":4800,"v":4.6},{"s":"SF−5","t":4950,"v":4.52},{"s":"SF−5","t":5000,"v":4.5}
],
"ra":[
{"s":"SF−layer","x":3.9,"h":150.0},{"s":"SF−layer","x":4.45,"h":148.3},{"s":"SF−layer","x":4.38,"h":147.4},{"s":"SF−layer","x":4.13,"h":145.6},{"s":"SF−layer","x":3.78,"h":143.8},{"s":"SF−layer","x":3.48,"h":142.1},{"s":"SF−layer","x":3.21,"h":140.0},{"s":"SF−layer","x":2.99,"h":137.8},{"s":"SF−layer","x":2.95,"h":135.7},{"s":"SF−layer","x":2.77,"h":133.6},{"s":"SF−layer","x":2.59,"h":130.8},{"s":"SF−layer","x":2.42,"h":127.9},{"s":"SF−layer","x":2.31,"h":126.5},{"s":"SF−layer","x":2.31,"h":123.7},{"s":"SF−layer","x":2.2,"h":120.1},{"s":"SF−layer","x":2.11,"h":116.6},{"s":"SF−layer","x":2.02,"h":113.7},{"s":"SF−layer","x":1.89,"h":112.3},{"s":"SF−layer","x":1.82,"h":110.2},{"s":"SF−layer","x":1.87,"h":108.1},{"s":"SF−layer","x":1.98,"h":105.3},{"s":"SF−layer","x":2.11,"h":102.4},{"s":"SF−layer","x":2.24,"h":99.6},{"s":"SF−layer","x":2.37,"h":97.5},{"s":"SF−layer","x":2.51,"h":95.3},{"s":"SF−layer","x":2.48,"h":93.2},{"s":"SF−layer","x":2.37,"h":91.1},{"s":"SF−layer","x":2.2,"h":88.9},{"s":"SF−layer","x":2.07,"h":87.5},{"s":"SF−layer","x":1.98,"h":84.7},{"s":"SF−layer","x":1.89,"h":81.9},{"s":"SF−layer","x":1.85,"h":79.8},{"s":"SF−layer","x":1.89,"h":78.4},{"s":"SF−layer","x":1.84,"h":77.6},{"s":"SF−layer","x":1.87,"h":76.9},{"s":"SF−layer","x":2.11,"h":74.8},{"s":"SF−layer","x":2.29,"h":71.2},{"s":"SF−layer","x":2.15,"h":68.4},{"s":"SF−layer","x":1.93,"h":65.6},{"s":"SF−layer","x":1.82,"h":62.1},{"s":"SF−layer","x":1.87,"h":60.0},{"s":"SF−layer","x":1.98,"h":57.1},{"s":"SF−layer","x":1.8,"h":55.7},{"s":"SF−layer","x":1.67,"h":54.2},{"s":"SF−layer","x":1.65,"h":51.4},{"s":"SF−layer","x":1.76,"h":47.9},{"s":"SF−layer","x":1.98,"h":45.1},{"s":"SF−layer","x":2.24,"h":42.2},{"s":"SF−layer","x":2.46,"h":40.8},{"s":"SF−layer","x":2.73,"h":39.4},{"s":"SF−layer","x":2.81,"h":37.3},{"s":"SF−layer","x":2.99,"h":35.8},{"s":"SF−layer","x":3.17,"h":34.4},{"s":"SF−layer","x":3.14,"h":32.3},{"s":"SF−layer","x":2.9,"h":29.5},{"s":"SF−layer","x":2.66,"h":28.0},{"s":"SF−layer","x":2.88,"h":26.6},{"s":"SF−layer","x":2.92,"h":24.5},{"s":"SF−layer","x":2.86,"h":21.7},{"s":"SF−layer","x":2.7,"h":18.8},{"s":"SF−layer","x":2.66,"h":16.0},{"s":"SF−layer","x":2.73,"h":13.2},{"s":"SF−layer","x":2.95,"h":11.0},{"s":"SF−layer","x":3.26,"h":8.9},{"s":"SF−layer","x":3.56,"h":7.5},{"s":"SF−layer","x":3.78,"h":6.1},{"s":"SF−layer","x":3.87,"h":4.7},{"s":"SF−layer","x":4.22,"h":4.0},{"s":"SF−layer","x":5.0,"h":3.0},{"s":"SF−layer","x":5.4,"h":2.2},{"s":"SF−layer","x":4.85,"h":0.8},
{"s":"SF−linear","x":4.1,"h":150.0},{"s":"SF−linear","x":1.78,"h":147.4},{"s":"SF−linear","x":1.87,"h":146.9},{"s":"SF−linear","x":1.98,"h":145.5},{"s":"SF−linear","x":1.96,"h":142.8},{"s":"SF−linear","x":2.02,"h":140.6},{"s":"SF−linear","x":2.11,"h":138.5},{"s":"SF−linear","x":2.07,"h":135.7},{"s":"SF−linear","x":2.15,"h":132.8},{"s":"SF−linear","x":2.24,"h":129.3},{"s":"SF−linear","x":2.33,"h":127.2},{"s":"SF−linear","x":2.46,"h":124.4},{"s":"SF−linear","x":2.4,"h":121.5},{"s":"SF−linear","x":2.42,"h":119.4},{"s":"SF−linear","x":2.33,"h":117.3},{"s":"SF−linear","x":2.24,"h":114.5},{"s":"SF−linear","x":2.15,"h":111.6},{"s":"SF−linear","x":2.09,"h":109.5},{"s":"SF−linear","x":2.04,"h":106.7},{"s":"SF−linear","x":1.93,"h":105.3},{"s":"SF−linear","x":1.8,"h":103.2},{"s":"SF−linear","x":1.78,"h":100.3},{"s":"SF−linear","x":1.82,"h":96.7},{"s":"SF−linear","x":1.87,"h":93.9},{"s":"SF−linear","x":1.98,"h":92.5},{"s":"SF−linear","x":2.09,"h":91.1},{"s":"SF−linear","x":2.11,"h":88.9},{"s":"SF−linear","x":2.02,"h":86.1},{"s":"SF−linear","x":1.91,"h":82.6},{"s":"SF−linear","x":1.85,"h":81.2},{"s":"SF−linear","x":1.87,"h":79.1},{"s":"SF−linear","x":1.82,"h":76.9},{"s":"SF−linear","x":1.85,"h":74.1},{"s":"SF−linear","x":1.91,"h":71.8},{"s":"SF−linear","x":2.02,"h":69.8},{"s":"SF−linear","x":2.15,"h":67.7},{"s":"SF−linear","x":2.33,"h":65.6},{"s":"SF−linear","x":2.46,"h":63.5},{"s":"SF−linear","x":2.53,"h":61.4},{"s":"SF−linear","x":2.48,"h":59.2},{"s":"SF−linear","x":2.55,"h":57.1},{"s":"SF−linear","x":2.46,"h":54.2},{"s":"SF−linear","x":2.29,"h":51.4},{"s":"SF−linear","x":2.2,"h":47.9},{"s":"SF−linear","x":2.22,"h":43.6},{"s":"SF−linear","x":2.26,"h":40.1},{"s":"SF−linear","x":2.24,"h":35.8},{"s":"SF−linear","x":2.33,"h":32.3},{"s":"SF−linear","x":2.24,"h":28.8},{"s":"SF−linear","x":2.2,"h":24.5},{"s":"SF−linear","x":2.26,"h":20.3},{"s":"SF−linear","x":2.33,"h":16.0},{"s":"SF−linear","x":2.46,"h":13.2},{"s":"SF−linear","x":2.33,"h":9.6},{"s":"SF−linear","x":2.42,"h":6.8},{"s":"SF−linear","x":2.24,"h":4.7},{"s":"SF−linear","x":2.07,"h":3.5},{"s":"SF−linear","x":3.08,"h":2.4},{"s":"SF−linear","x":1.0,"h":1.2},
{"s":"SF−3","x":2.7,"h":150.0},{"s":"SF−3","x":1.8,"h":149.5},{"s":"SF−3","x":1.69,"h":148.0},{"s":"SF−3","x":1.67,"h":146.3},{"s":"SF−3","x":1.71,"h":142.8},{"s":"SF−3","x":1.76,"h":139.3},{"s":"SF−3","x":1.82,"h":135.0},{"s":"SF−3","x":1.87,"h":132.1},{"s":"SF−3","x":1.85,"h":128.6},{"s":"SF−3","x":1.78,"h":125.8},{"s":"SF−3","x":1.72,"h":123.7},{"s":"SF−3","x":1.78,"h":119.4},{"s":"SF−3","x":1.8,"h":115.9},{"s":"SF−3","x":1.74,"h":112.3},{"s":"SF−3","x":1.76,"h":109.5},{"s":"SF−3","x":1.71,"h":107.4},{"s":"SF−3","x":1.69,"h":103.8},{"s":"SF−3","x":1.65,"h":100.3},{"s":"SF−3","x":1.58,"h":96.7},{"s":"SF−3","x":1.49,"h":93.2},{"s":"SF−3","x":1.46,"h":89.7},{"s":"SF−3","x":1.47,"h":84.0},{"s":"SF−3","x":1.54,"h":79.8},{"s":"SF−3","x":1.63,"h":76.2},{"s":"SF−3","x":1.69,"h":72.7},{"s":"SF−3","x":1.74,"h":70.0},{"s":"SF−3","x":1.76,"h":65.6},{"s":"SF−3","x":1.76,"h":60.6},{"s":"SF−3","x":1.63,"h":57.1},{"s":"SF−3","x":1.54,"h":54.2},{"s":"SF−3","x":1.49,"h":50.0},{"s":"SF−3","x":1.47,"h":44.3},{"s":"SF−3","x":1.47,"h":38.7},{"s":"SF−3","x":1.52,"h":34.4},{"s":"SF−3","x":1.6,"h":28.8},{"s":"SF−3","x":1.69,"h":24.5},{"s":"SF−3","x":1.74,"h":20.3},{"s":"SF−3","x":1.71,"h":16.0},{"s":"SF−3","x":1.78,"h":13.2},{"s":"SF−3","x":1.85,"h":10.3},{"s":"SF−3","x":1.82,"h":7.5},{"s":"SF−3","x":1.78,"h":6.1},{"s":"SF−3","x":1.67,"h":4.0},{"s":"SF−3","x":1.78,"h":2.5},{"s":"SF−3","x":1.87,"h":1.8},{"s":"SF−3","x":1.43,"h":0.7}
],
"rb":[
{"s":"SF−4","x":5.85,"h":150.0},{"s":"SF−4","x":3.12,"h":147.4},{"s":"SF−4","x":3.21,"h":145.5},{"s":"SF−4","x":3.39,"h":143.3},{"s":"SF−4","x":3.5,"h":141.2},{"s":"SF−4","x":3.48,"h":137.8},{"s":"SF−4","x":3.45,"h":133.6},{"s":"SF−4","x":3.5,"h":130.0},{"s":"SF−4","x":3.45,"h":126.5},{"s":"SF−4","x":3.48,"h":122.9},{"s":"SF−4","x":3.54,"h":119.4},{"s":"SF−4","x":3.56,"h":115.2},{"s":"SF−4","x":3.61,"h":111.6},{"s":"SF−4","x":3.59,"h":108.1},{"s":"SF−4","x":3.63,"h":105.3},{"s":"SF−4","x":3.67,"h":102.4},{"s":"SF−4","x":3.7,"h":98.2},{"s":"SF−4","x":3.7,"h":96.0},{"s":"SF−4","x":3.56,"h":93.9},{"s":"SF−4","x":3.52,"h":92.5},{"s":"SF−4","x":3.5,"h":90.4},{"s":"SF−4","x":3.48,"h":87.5},{"s":"SF−4","x":3.56,"h":83.3},{"s":"SF−4","x":3.65,"h":80.5},{"s":"SF−4","x":3.67,"h":79.1},{"s":"SF−4","x":3.52,"h":76.9},{"s":"SF−4","x":3.48,"h":74.1},{"s":"SF−4","x":3.61,"h":71.5},{"s":"SF−4","x":3.74,"h":65.6},{"s":"SF−4","x":3.92,"h":61.4},{"s":"SF−4","x":4.4,"h":57.1},{"s":"SF−4","x":4.05,"h":53.6},{"s":"SF−4","x":3.7,"h":47.9},{"s":"SF−4","x":3.92,"h":40.9},{"s":"SF−4","x":3.78,"h":38.7},{"s":"SF−4","x":4.05,"h":31.6},{"s":"SF−4","x":4.07,"h":28.0},{"s":"SF−4","x":3.83,"h":23.8},{"s":"SF−4","x":3.76,"h":19.5},{"s":"SF−4","x":4.03,"h":13.9},{"s":"SF−4","x":3.56,"h":11.1},{"s":"SF−4","x":3.39,"h":9.6},{"s":"SF−4","x":3.28,"h":6.8},{"s":"SF−4","x":3.48,"h":4.7},{"s":"SF−4","x":4.0,"h":3.5},{"s":"SF−4","x":5.39,"h":1.8},{"s":"SF−4","x":2.64,"h":0.5},
{"s":"SF−5","x":7.1,"h":150.0},{"s":"SF−5","x":3.82,"h":147.7},{"s":"SF−5","x":4.05,"h":146.3},{"s":"SF−5","x":4.22,"h":142.8},{"s":"SF−5","x":4.38,"h":139.3},{"s":"SF−5","x":4.33,"h":135.0},{"s":"SF−5","x":4.31,"h":130.8},{"s":"SF−5","x":4.33,"h":125.1},{"s":"SF−5","x":4.29,"h":119.4},{"s":"SF−5","x":4.25,"h":115.2},{"s":"SF−5","x":4.31,"h":110.9},{"s":"SF−5","x":4.33,"h":105.3},{"s":"SF−5","x":4.33,"h":99.6},{"s":"SF−5","x":4.35,"h":95.3},{"s":"SF−5","x":4.44,"h":92.5},{"s":"SF−5","x":4.61,"h":87.5},{"s":"SF−5","x":4.66,"h":82.6},{"s":"SF−5","x":4.62,"h":76.9},{"s":"SF−5","x":4.6,"h":72.7},{"s":"SF−5","x":4.64,"h":70.5},{"s":"SF−5","x":4.73,"h":67.0},{"s":"SF−5","x":4.77,"h":62.1},{"s":"SF−5","x":4.62,"h":60.0},{"s":"SF−5","x":4.44,"h":56.4},{"s":"SF−5","x":4.33,"h":50.0},{"s":"SF−5","x":4.27,"h":44.3},{"s":"SF−5","x":4.31,"h":40.1},{"s":"SF−5","x":4.51,"h":36.5},{"s":"SF−5","x":4.42,"h":33.0},{"s":"SF−5","x":4.69,"h":29.5},{"s":"SF−5","x":4.75,"h":25.9},{"s":"SF−5","x":4.88,"h":23.8},{"s":"SF−5","x":5.07,"h":20.3},{"s":"SF−5","x":4.93,"h":18.1},{"s":"SF−5","x":4.75,"h":13.9},{"s":"SF−5","x":4.51,"h":8.9},{"s":"SF−5","x":4.44,"h":6.1},{"s":"SF−5","x":4.53,"h":4.0},{"s":"SF−5","x":6.97,"h":2.3},{"s":"SF−5","x":4.84,"h":0.8}
]
},
"resolve":{"scale":{"color":"independent"},"legend":{"color":"independent"}},
"spacing":104,
"hconcat":[
{
 "title":{"text":"(a)\u2003𝒯̃(t, H/2)\u2002(gepunktet)\u2002und\u2003⁵⁰%𝒯(t)\u2002(durchgezogen)","orient":"bottom","anchor":"middle","frame":"bounds","font":"Liberation Serif","fontSize":22,"offset":13},
 "resolve":{"scale":{"color":"independent"},"legend":{"color":"independent"}},
 "vconcat":[{
  "width":446,"height":359,
  "title":{"text":["Turbulent Lewis Number","const. Grad. (dotted) and local Grad. (solid)"],"lineHeight":25,"offset":-19,"anchor":"middle","frame":"group"},
  "resolve":{"axis":{"x":"independent","y":"independent"}},
  "layer":[
   {"data":{"name":"ld"},
    "mark":{"type":"line","strokeWidth":1,"strokeDash":[1,2],"opacity":0.8,"clip":true},
    "encoding":{
     "x":{"field":"t","type":"quantitative","scale":{"domain":[0,5000],"nice":false},"axis":{"orient":"bottom","values":[0,1000,2000,3000,4000,5000],"format":"d","title":"Time (sec)","grid":true,"labelPadding":11,"titlePadding":1}},
     "y":{"field":"v","type":"quantitative","scale":{"domain":[1,10],"nice":false,"zero":false,"range":[359,33]},"axis":{"orient":"left","values":[2,4,6,8,10],"title":"τᵗᵘʳᵇ","grid":true,"labelPadding":9,"titlePadding":12}},
     "color":{"field":"s","type":"nominal","scale":{"domain":["SF−layer","SF−linear","SF−3","SF−4","SF−5"],"range":["#000000","#0000ff","#ff0000","#00ff00","#ff00ff"]},"legend":{"title":null,"orient":"none","legendX":5,"legendY":37}}
    }},
   {"data":{"name":"ls"},
    "mark":{"type":"line","strokeWidth":2,"clip":true},
    "encoding":{
     "x":{"field":"t","type":"quantitative","axis":{"orient":"top","offset":-33,"values":[0,1000,2000,3000,4000,5000],"labels":false,"title":null,"grid":false}},
     "y":{"field":"v","type":"quantitative","axis":{"orient":"right","values":[2,4,6,8,10],"labels":false,"title":null,"grid":false}},
     "color":{"field":"s","type":"nominal","legend":{"title":null,"orient":"none","legendX":5,"legendY":37}}
    }}
  ]
 }]
},
{
 "title":{"text":"(b)\u2003𝒯̃(tₘₐₓ, z)","orient":"bottom","anchor":"middle","frame":"bounds","dx":38,"font":"Liberation Serif","fontSize":22,"offset":20},
 "resolve":{"scale":{"color":"independent"},"legend":{"color":"independent"}},
 "vconcat":[{
  "width":454,"height":353,
  "title":{"text":"Turbulent Lewis Number","offset":1,"anchor":"middle","frame":"group"},
  "resolve":{"axis":{"x":"independent","y":"independent"}},
  "layer":[
   {"data":{"name":"ra"},
    "mark":{"type":"line","strokeWidth":1.8,"clip":true},
    "encoding":{
     "x":{"field":"x","type":"quantitative","scale":{"domain":[1,7],"nice":false,"zero":false},"axis":{"orient":"bottom","values":[1,2,3,4,5,6,7],"title":"τᵗᵘʳᵇ","grid":true,"labelPadding":11,"titlePadding":0}},
     "y":{"field":"h","type":"quantitative","scale":{"domain":[0,150],"nice":false},"axis":{"orient":"left","values":[0,50,100,150],"title":"Height","grid":true,"labelPadding":9,"titlePadding":8}},
     "order":{"field":"h","type":"quantitative","sort":"descending"},
     "color":{"field":"s","type":"nominal","scale":{"domain":["SF−layer","SF−linear","SF−3","SF−4","SF−5"],"range":["#000000","#0000ff","#ff0000","#00ff00","#ff00ff"]},"legend":{"title":null,"orient":"top-right","offset":4}}
    }},
   {"data":{"name":"rb"},
    "mark":{"type":"line","strokeWidth":1.8,"clip":true},
    "encoding":{
     "x":{"field":"x","type":"quantitative","axis":{"orient":"top","values":[1,2,3,4,5,6,7],"labels":false,"title":null,"grid":false}},
     "y":{"field":"h","type":"quantitative","axis":{"orient":"right","values":[0,50,100,150],"labels":false,"title":null,"grid":false}},
     "order":{"field":"h","type":"quantitative","sort":"descending"},
     "color":{"field":"s","type":"nominal","legend":{"title":null,"orient":"top-right","offset":4}}
    }}
  ]
 }]
}
]
}
